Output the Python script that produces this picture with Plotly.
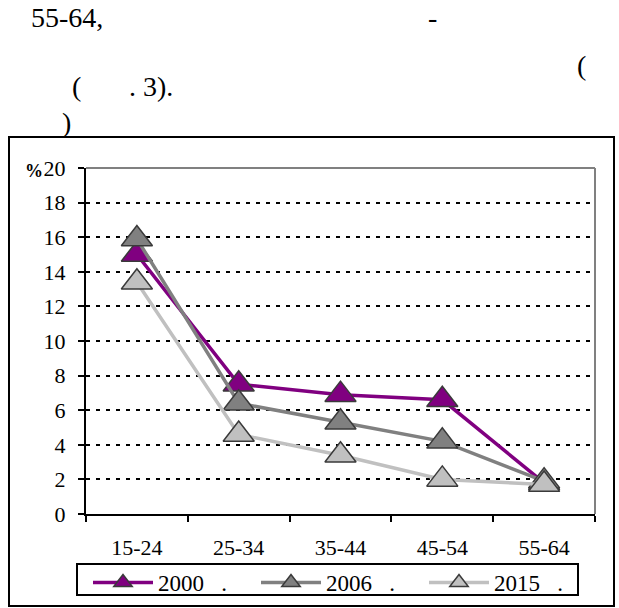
import plotly.graph_objects as go

W, H = 619, 608

categories = ["15-24", "25-34", "35-44", "45-54", "55-64"]
series_names = ["2000\u00a0\u00a0\u00a0.", "2006\u00a0\u00a0\u00a0.", "2015\u00a0\u00a0\u00a0."]
values_2000 = [15.0, 7.5, 6.9, 6.6, 1.8]
values_2006 = [15.9, 6.4, 5.3, 4.2, 1.9]
values_2015 = [13.4, 4.6, 3.4, 2.0, 1.7]
y_ticks = list(range(0, 21, 2))

line_colors = ["#800080", "#808080", "#C0C0C0"]
fill_colors = ["#800080", "#808080", "#C0C0C0"]

FONT = "Liberation Serif"


def px(x):
    return x / W


def py(y):
    return 1 - y / H


fig = go.Figure()
for name, vals, lc, fc in zip(series_names, [values_2000, values_2006, values_2015], line_colors, fill_colors):
    fig.add_trace(go.Scatter(
        x=categories, y=vals, name=name, mode="lines+markers",
        line=dict(color=lc, width=3.5),
        marker=dict(symbol="triangle-up", size=27, color=fc,
                    line=dict(color="#3a3a3a", width=1.5)),
        cliponaxis=False,
    ))

fig.update_layout(
    width=W, height=H,
    margin=dict(l=0, r=0, t=0, b=0, autoexpand=False),
    paper_bgcolor="white", plot_bgcolor="white",
    font=dict(family=FONT, color="black", size=22),
    showlegend=True,
    legend=dict(
        orientation="h", x=px(88), y=py(561), xanchor="left", yanchor="top",
        borderwidth=0, bgcolor="rgba(0,0,0,0)",
        font=dict(family=FONT, size=23, color="black"),
        itemwidth=60, entrywidth=93, tracegroupgap=0,
    ),
    xaxis=dict(
        domain=[px(86), px(595)],
        type="category", tickson="boundaries",
        ticks="outside", ticklen=6, tickwidth=2, tickcolor="black",
        showline=True, linecolor="black", linewidth=2,
        showgrid=False, zeroline=False,
        tickfont=dict(family=FONT, size=22, color="black"),
        ticklabelstandoff=13,
        range=[-0.5, 4.5],
    ),
    yaxis=dict(
        domain=[py(514), py(168)],
        range=[0, 20], tickvals=y_ticks,
        ticks="outside", ticklen=6, tickwidth=2, tickcolor="black",
        showline=True, linecolor="black", linewidth=2,
        showgrid=True, gridcolor="black", gridwidth=2, griddash="4px,6px",
        zeroline=False,
        tickfont=dict(family=FONT, size=22, color="black"),
        ticklabelstandoff=8,
    ),
)

shapes = [
    dict(type="rect", xref="paper", yref="paper", x0=px(9), x1=px(614), y0=py(606), y1=py(137),
         line=dict(color="black", width=2), fillcolor="rgba(0,0,0,0)", layer="below"),
    dict(type="rect", xref="paper", yref="paper", x0=px(77), x1=px(578), y0=py(595), y1=py(564),
         line=dict(color="black", width=2), fillcolor="rgba(0,0,0,0)", layer="below"),
    dict(type="line", xref="x domain", yref="y domain", x0=0, x1=1, y0=1, y1=1,
         line=dict(color="#808080", width=2), layer="above"),
    dict(type="line", xref="x domain", yref="y domain", x0=1, x1=1, y0=0, y1=1,
         line=dict(color="#808080", width=2), layer="above"),
]
fig.update_layout(shapes=shapes)

annots = [
    dict(text="55-64,", x=px(29), y=py(17), xanchor="left", size=28),
    dict(text="-", x=px(432), y=py(17), xanchor="center", size=28),
    dict(text="(", x=px(581), y=py(66), xanchor="center", size=28),
    dict(text="(", x=px(76), y=py(87), xanchor="center", size=28),
    dict(text=". 3).", x=px(127), y=py(87), xanchor="left", size=28),
    dict(text=")", x=px(66), y=py(122), xanchor="center", size=28),
    dict(text="<b>%</b>", x=px(45), y=py(171), xanchor="right", size=18),
]
for a in annots:
    fig.add_annotation(
        text=a["text"], x=a["x"], y=a["y"], xref="paper", yref="paper",
        xanchor=a["xanchor"], yanchor="middle", showarrow=False,
        font=dict(family=FONT, size=a["size"], color="black"),
    )

fig.write_html("out.html", config={"displayModeBar": False},
               post_script="document.body.style.margin='0';")
